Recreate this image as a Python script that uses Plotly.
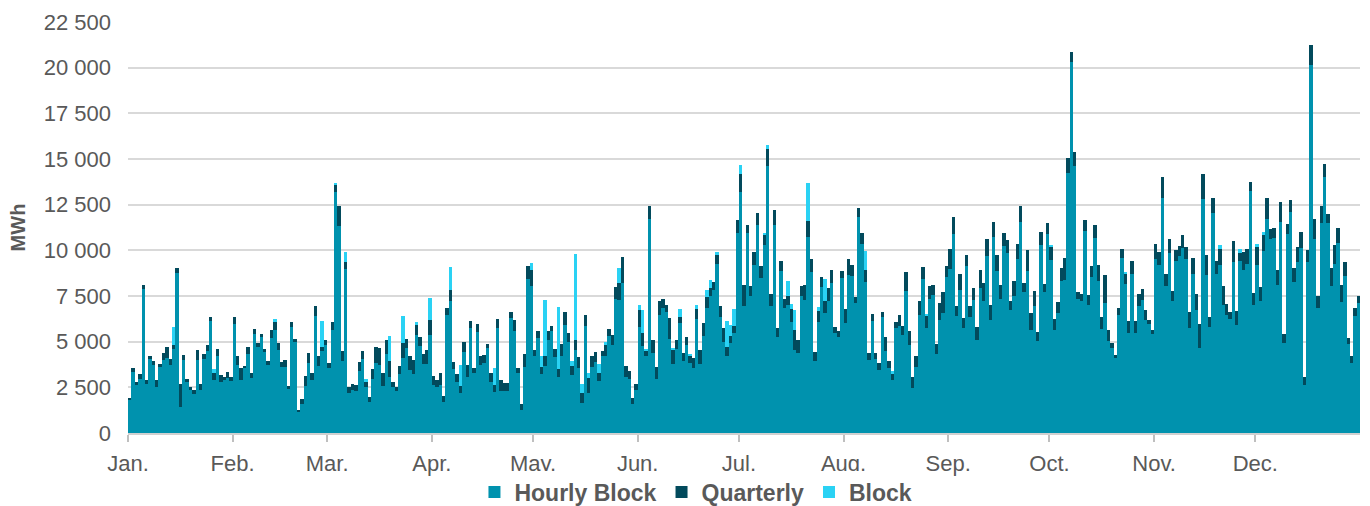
import pandas as pd
import plotly.graph_objects as go

# ---- Data (MWh per day, 2023) ----
months = ["Jan.", "Feb.", "Mar.", "Apr.", "May.", "Jun.", "Jul.", "Aug.", "Sep.", "Oct.", "Nov.", "Dec."]
month_starts = ["2023-01-01", "2023-02-01", "2023-03-01", "2023-04-01", "2023-05-01", "2023-06-01",
                "2023-07-01", "2023-08-01", "2023-09-01", "2023-10-01", "2023-11-01", "2023-12-01"]
y_ticks = [0, 2500, 5000, 7500, 10000, 12500, 15000, 17500, 20000, 22500]
y_tick_labels = ["0", "2 500", "5 000", "7 500", "10 000", "12 500", "15 000", "17 500", "20 000", "22 500"]

hourly_block = [
    # Jan
    1850, 3360, 2620, 2940, 7870, 2680, 4040, 3720, 2530, 3630, 3990, 4100, 3750, 4580, 8760, 1430,
    3990, 2800, 2350, 2160, 4000, 2340, 4050, 4490, 6110, 2900, 4190, 2800, 2900, 2990, 2840,
    # Feb
    5980, 3720, 2900, 3540, 4330, 2990, 5430, 4700, 5240, 4410, 3720, 5190, 5640, 4550, 3590, 3630,
    2390, 5780, 5000, 1130, 1580, 2590, 3850, 2900, 6380, 3690, 4510, 4820,
    # Mar
    3540, 5640, 13200, 11330, 3960, 8980, 2200, 2350, 2310, 3400, 4050, 2520, 1670, 2950, 3820, 3740,
    2600, 4300, 3080, 2520, 2310, 3230, 4080, 4640, 3450, 3230, 5370, 4740, 3760, 3780, 5370,
    # Apr
    2630, 2530, 2620, 1670, 6470, 7210, 3480, 2810, 2200, 4460, 3080, 5740, 3270, 5520, 3720, 3810,
    4640, 2800, 2220, 5740, 2310, 2310, 2310, 6290, 5610, 3300, 1250, 3630, 8450, 8030,
    # May
    4220, 5190, 3230, 3690, 5100, 5590, 4150, 3090, 4220, 5920, 5000, 3170, 4550, 3540, 1660, 5870,
    2190, 3630, 3870, 2860, 4220, 4210, 5290, 4820, 7340, 7290, 8220, 3080, 2950, 1600, 2350,
    # Jun
    5820, 4740, 4190, 11700, 4400, 2950, 6480, 6840, 6650, 5140, 3780, 4590, 6020, 3960, 4830, 3850,
    3580, 6250, 3780, 5320, 6840, 7480, 7850, 9270, 6350, 4970, 4220, 4910, 5470, 10960,
    # Jul
    13170, 6930, 10930, 7520, 9180, 11410, 8490, 10270, 14610, 6930, 11370, 5280, 8860, 6840, 7020, 6060,
    4550, 4370, 7480, 7290, 10730, 8810, 3940, 6050, 8000, 6590, 7210, 8220, 5470, 5240, 8490,
    # Aug
    6020, 8670, 8580, 7120, 11800, 10320, 8250, 3990, 6110, 4030, 3440, 6340, 4510, 3570, 2900, 5770,
    5860, 5370, 7750, 4830, 2440, 3630, 6470, 8440, 5740, 7330, 7570, 4330, 6170, 6560, 8540,
    # Sep
    8990, 10910, 6420, 7850, 5740, 9130, 6330, 7260, 5070, 7950, 7250, 9690, 6160, 10730, 8860, 7350,
    10240, 9830, 6710, 7520, 9500, 11560, 7710, 8850, 5650, 6960, 5060, 10290, 7700, 10910,
    # Oct
    9460, 5650, 6560, 8310, 8400, 14230, 20320, 14640, 7330, 7210, 11060, 7020, 8540, 10690, 8310, 5690,
    7110, 5060, 4640, 4090, 6470, 9590, 8180, 5500, 8730, 5500, 6970, 7300, 6200, 5980, 5430,
    # Nov
    9500, 9170, 12840, 8070, 9830, 7200, 9440, 9680, 10140, 9500, 5770, 8730, 6750, 4640, 12800, 8670,
    5780, 12060, 8710, 9170, 7020, 6470, 6240, 9350, 5930, 9410, 8910, 9230, 13260, 7030,
    # Dec
    9220, 7210, 9960, 11700, 10640, 10690, 8120, 11560, 4950, 10880, 12110, 8250, 9360, 10140, 2620, 9350,
    20140, 10640, 6840, 11480, 14030, 11520, 8030, 9230, 10410, 7150, 8620, 4880, 3820, 6420, 7110,
]

quarterly = [
    # Jan
    80, 180, 150, 290, 220, 220, 180, 220, 370, 130, 370, 600, 280, 240, 280, 1280,
    260, 130, 180, 220, 530, 370, 280, 330, 220, 400, 400, 370, 180, 350, 220,
    # Feb
    370, 500, 640, 150, 370, 310, 290, 200, 170, 180, 220, 460, 460, 370, 280, 370,
    200, 310, 170, 150, 290, 530, 550, 400, 550, 530, 220, 280,
    # Mar
    310, 460, 370, 1100, 530, 370, 330, 330, 310, 500, 460, 280, 310, 530, 880, 900,
    700, 800, 860, 280, 220, 440, 830, 530, 770, 770, 550, 510, 550, 770, 790,
    # Apr
    510, 370, 640, 370, 370, 640, 420, 420, 370, 510, 640, 370, 310, 460, 500, 460,
    240, 460, 400, 500, 590, 440, 440, 350, 550, 280, 330, 680, 680, 880,
    # May
    330, 370, 400, 530, 460, 280, 440, 400, 640, 680, 500, 510, 550, 640, 510, 590,
    830, 590, 550, 440, 290, 610, 400, 550, 660, 920, 1410, 610, 460, 300, 350,
    # Jun
    920, 730, 330, 700, 700, 680, 730, 510, 370, 1150, 770, 510, 330, 440, 420, 370,
    510, 550, 770, 700, 590, 460, 420, 500, 620, 770, 510, 400, 370, 700,
    # Jul
    1000, 1190, 440, 550, 720, 660, 640, 610, 950, 680, 830, 460, 550, 510, 460, 730,
    1100, 730, 590, 830, 880, 730, 480, 610, 530, 610, 730, 730, 310, 370, 370,
    # Aug
    770, 830, 590, 330, 510, 610, 700, 370, 420, 330, 370, 280, 720, 370, 310, 280,
    610, 500, 1050, 730, 640, 590, 770, 640, 640, 700, 550, 550, 950, 1140, 590,
    # Sep
    1100, 920, 550, 880, 550, 590, 640, 680, 730, 950, 970, 950, 860, 840, 860, 770,
    730, 730, 500, 790, 830, 840, 510, 1160, 920, 830, 480, 730, 460, 570,
    # Oct
    770, 590, 610, 730, 1170, 810, 550, 770, 390, 420, 590, 550, 590, 700, 860, 660,
    1560, 590, 310, 180, 370, 460, 550, 640, 680, 610, 660, 590, 510, 220, 220,
    # Nov
    860, 750, 1190, 660, 770, 590, 570, 550, 680, 680, 830, 860, 880, 1340, 1380, 1050,
    550, 830, 700, 920, 1050, 610, 400, 1160, 730, 460, 990, 860, 500, 640,
    # Dec
    970, 770, 860, 1190, 510, 550, 830, 1060, 460, 550, 640, 790, 840, 860, 420, 660,
    1100, 1060, 640, 950, 700, 460, 1010, 1060, 830, 970, 750, 310, 400, 420, 370,
]

block = [
    # Jan
    0, 0, 0, 0, 0, 0, 0, 0, 0, 0, 0, 0, 0, 1010, 0, 0,
    0, 0, 0, 0, 0, 0, 0, 0, 0, 180, 0, 0, 0, 0, 0,
    # Feb
    0, 0, 0, 0, 0, 0, 0, 0, 0, 0, 0, 0, 150, 0, 0, 0,
    0, 0, 0, 0, 0, 0, 0, 0, 0, 0, 1410, 0,
    # Mar
    0, 0, 110, 0, 0, 550, 0, 0, 0, 0, 0, 150, 0, 0, 0, 0,
    0, 0, 1380, 0, 0, 0, 1470, 0, 0, 0, 130, 0, 0, 0, 1230,
    # Apr
    0, 0, 0, 0, 0, 1230, 0, 0, 1150, 0, 0, 0, 0, 0, 0, 0,
    0, 0, 920, 0, 0, 0, 0, 0, 0, 0, 0, 0, 0, 370,
    # May
    0, 0, 590, 3040, 0, 0, 0, 3390, 0, 0, 0, 280, 4680, 0, 510, 0,
    240, 0, 0, 480, 0, 150, 0, 0, 0, 810, 0, 0, 0, 0, 0,
    # Jun
    280, 1280, 70, 0, 0, 0, 0, 0, 0, 0, 90, 0, 440, 0, 0, 110,
    0, 220, 0, 0, 420, 460, 0, 130, 0, 0, 1380, 610, 950, 0,
    # Jul
    500, 0, 0, 0, 0, 0, 0, 90, 180, 0, 0, 0, 0, 0, 830, 290,
    1060, 0, 0, 0, 2070, 0, 0, 240, 0, 1250, 0, 0, 0, 0, 0,
    # Aug
    0, 0, 0, 0, 0, 0, 1010, 0, 0, 0, 0, 0, 0, 0, 200, 0,
    0, 0, 0, 0, 0, 0, 0, 0, 150, 0, 0, 0, 0, 0, 0,
    # Sep
    0, 0, 0, 0, 0, 0, 0, 0, 0, 0, 0, 0, 0, 0, 0, 0,
    0, 0, 0, 0, 0, 0, 0, 0, 0, 0, 0, 0, 0, 0,
    # Oct
    40, 0, 0, 0, 0, 0, 0, 0, 0, 0, 0, 0, 0, 0, 0, 0,
    0, 0, 0, 0, 0, 0, 70, 0, 0, 0, 0, 0, 0, 0, 0,
    # Nov
    0, 0, 0, 0, 0, 0, 0, 0, 0, 0, 0, 0, 0, 0, 0, 0,
    0, 0, 0, 180, 0, 0, 0, 0, 0, 180, 0, 0, 0, 0,
    # Dec
    170, 0, 180, 0, 0, 0, 0, 0, 0, 0, 0, 0, 0, 0, 0, 0,
    0, 0, 0, 0, 0, 0, 0, 0, 0, 0, 0, 0, 0, 0, 0,
]

days = pd.date_range("2023-01-01 12:00", periods=len(hourly_block), freq="D")
day_ms = 86400000

series = [
    ("Hourly Block", hourly_block, "#0092AE"),
    ("Quarterly", quarterly, "#024A5C"),
    ("Block", block, "#2AD2F4"),
]

fig = go.Figure()
for name, vals, color in series:
    fig.add_trace(go.Bar(
        x=days, y=vals, name=name, width=day_ms,
        marker=dict(color=color, line=dict(width=0)),
    ))

grey = "#595959"
fig.update_layout(
    barmode="stack",
    bargap=0,
    width=1370, height=506,
    margin=dict(l=128, r=10, t=22, b=73, autoexpand=False),
    plot_bgcolor="white", paper_bgcolor="white",
    font=dict(family="Liberation Sans, Arial, sans-serif", color=grey, size=22),
    showlegend=True,
    legend=dict(
        orientation="h", xref="container", x=0.508, xanchor="center",
        y=-0.1436, yanchor="middle",
        font=dict(size=23, color=grey, weight="bold"),
        itemwidth=30, traceorder="normal",
    ),
)
fig.update_xaxes(
    type="date", automargin=False,
    range=["2023-01-01", "2024-01-01"],
    tickvals=month_starts, ticktext=months,
    ticks="outside", ticklen=7, tickcolor="#bfbfbf", tickwidth=1.5,
    showline=True, linecolor="#d0d0d0", linewidth=1.5,
    showgrid=False, zeroline=False, ticklabelstandoff=3,
    tickfont=dict(size=22, color=grey),
)
fig.update_yaxes(
    automargin=False,
    range=[0, 22500],
    tickvals=y_ticks, ticktext=y_tick_labels,
    showgrid=True, gridcolor="#d9d9d9", gridwidth=1.5,
    zeroline=False, showline=False,
    ticks="", ticklabelstandoff=16,
    tickfont=dict(size=22, color=grey),
    title=dict(text="MWh", font=dict(size=20, color=grey, weight="bold"), standoff=12),
)

fig.write_html("out.html", config={"displayModeBar": False},
               post_script="document.body.style.margin='0px';")
